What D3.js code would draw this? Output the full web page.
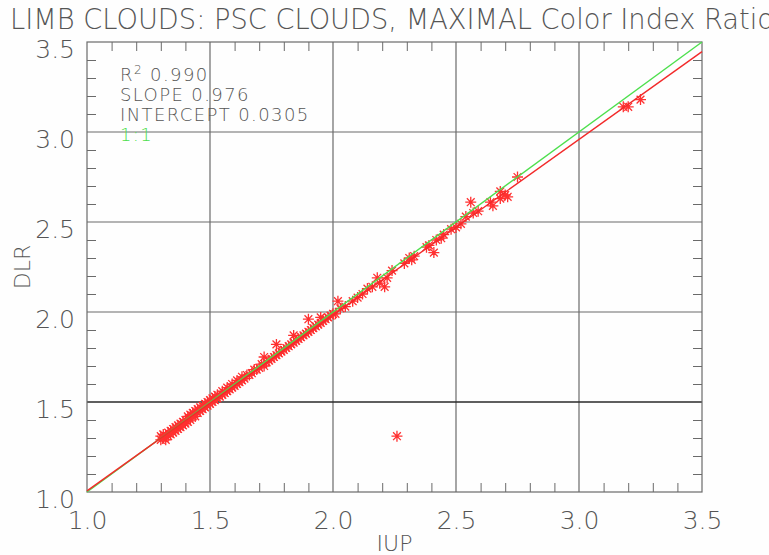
<!DOCTYPE html>
<html>
<head>
<meta charset="utf-8">
<script src="https://cdn.jsdelivr.net/npm/d3@7"></script>
<style>
  html, body { margin: 0; padding: 0; background: #fefefe; }
  svg { display: block; }
  text { font-family: "DejaVu Sans", "Noto Sans", sans-serif; font-weight: 200; fill: #555; }
</style>
</head>
<body>
<svg id="chart" width="769" height="555"></svg>
<script>
// Color index ratio pairs (IUP, DLR) for PSC limb clouds
const iup = [
  1.30,1.30,1.31,1.31,1.32,1.32,1.33,1.33,1.34,1.34,1.35,1.35,1.36,1.36,1.37,1.37,1.38,1.38,1.39,1.39,
  1.40,1.40,1.41,1.41,1.42,1.42,1.43,1.43,1.44,1.44,1.45,1.45,1.46,1.46,1.47,1.47,1.48,1.48,1.49,1.49,
  1.50,1.50,1.51,1.51,1.52,1.52,1.53,1.53,1.54,1.55,1.55,1.56,1.57,1.57,1.58,1.59,1.59,1.60,1.61,1.61,
  1.62,1.63,1.63,1.64,1.65,1.66,1.67,1.68,1.69,1.70,1.71,1.72,1.72,1.73,1.74,1.75,1.76,1.77,1.77,1.78,
  1.79,1.80,1.81,1.82,1.83,1.84,1.84,1.85,1.86,1.87,1.88,1.89,1.90,1.90,1.91,1.92,1.93,1.94,1.95,1.95,
  1.96,1.97,1.98,1.99,2.00,2.01,2.02,2.03,2.05,2.08,2.10,2.12,2.14,2.16,2.18,2.19,2.21,2.22,2.24,2.26,
  2.29,2.31,2.32,2.33,2.38,2.39,2.41,2.42,2.44,2.45,2.48,2.50,2.52,2.54,2.56,2.57,2.59,2.64,2.65,2.68,
  2.68,2.70,2.71,2.75,3.18,3.20,3.25
];
const dlr = [
  1.29,1.31,1.30,1.32,1.29,1.31,1.33,1.31,1.32,1.34,1.33,1.35,1.34,1.36,1.35,1.37,1.36,1.38,1.37,1.39,
  1.38,1.40,1.39,1.42,1.40,1.43,1.42,1.44,1.42,1.45,1.44,1.46,1.45,1.47,1.46,1.48,1.47,1.49,1.48,1.50,
  1.49,1.51,1.50,1.52,1.51,1.53,1.52,1.54,1.53,1.54,1.56,1.55,1.56,1.58,1.57,1.58,1.60,1.59,1.60,1.62,
  1.61,1.62,1.64,1.63,1.65,1.65,1.66,1.68,1.68,1.69,1.71,1.70,1.75,1.72,1.73,1.74,1.75,1.82,1.76,1.77,
  1.78,1.79,1.80,1.81,1.82,1.87,1.83,1.84,1.85,1.86,1.87,1.88,1.96,1.89,1.90,1.91,1.92,1.93,1.97,1.94,
  1.95,1.96,1.97,1.98,1.99,1.99,2.06,2.02,2.03,2.06,2.08,2.10,2.13,2.14,2.19,2.16,2.14,2.19,2.23,1.31,
  2.27,2.30,2.29,2.31,2.36,2.37,2.33,2.40,2.41,2.43,2.46,2.47,2.49,2.53,2.61,2.55,2.56,2.61,2.59,2.67,
  2.63,2.65,2.64,2.75,3.14,3.14,3.18
];

// Linear fit and reference line
const fitSlope = 0.976;
const fitIntercept = 0.0305;
const rSquared = "0.990";

// Axis ticks
const majorTicks = [1.0, 1.5, 2.0, 2.5, 3.0, 3.5];
const minorTicks = [1.1,1.2,1.3,1.4,1.6,1.7,1.8,1.9,2.1,2.2,2.3,2.4,2.6,2.7,2.8,2.9,3.1,3.2,3.3,3.4];

const titleText = "LIMB CLOUDS: PSC CLOUDS, MAXIMAL Color Index Ratio";
const xTitle = "IUP";
const yTitle = "DLR";

const svg = d3.select("#chart");
const pLeft = 87, pRight = 702, pTop = 42, pBottom = 492;
const x = d3.scaleLinear().domain([1, 3.5]).range([pLeft, pRight]);
const y = d3.scaleLinear().domain([1, 3.5]).range([pBottom, pTop]);
const fmt = d3.format(".1f");

// Title
svg.append("text")
  .attr("x", 10).attr("y", 28.5)
  .attr("font-size", 28)
  .attr("textLength", 764).attr("lengthAdjust", "spacingAndGlyphs")
  .text(titleText);

// Major grid lines
const grid = svg.append("g");
grid.selectAll("line.gx").data(majorTicks.slice(1, -1)).join("line")
  .attr("x1", d => x(d)).attr("x2", d => x(d))
  .attr("y1", pTop).attr("y2", pBottom)
  .attr("stroke", "#6a6a6a").attr("stroke-width", 1.2);
grid.selectAll("line.gy").data(majorTicks.slice(1, -1)).join("line")
  .attr("y1", d => y(d)).attr("y2", d => y(d))
  .attr("x1", pLeft).attr("x2", pRight)
  .attr("stroke", d => d === 1.5 ? "#2a2a2a" : "#6a6a6a")
  .attr("stroke-width", d => d === 1.5 ? 1.6 : 1.2);

// Minor ticks on all four sides
const tickLen = 9;
function minorAxis(axisFn, scale, transform) {
  const g = svg.append("g").attr("transform", transform)
    .call(axisFn(scale).tickValues(minorTicks).tickSize(-tickLen).tickFormat(""));
  g.select(".domain").remove();
  g.selectAll(".tick line").attr("stroke", "#6a6a6a");
}
minorAxis(d3.axisBottom, x, `translate(0,${pBottom})`);
minorAxis(d3.axisTop, x, `translate(0,${pTop})`);
minorAxis(d3.axisLeft, y, `translate(${pLeft},0)`);
minorAxis(d3.axisRight, y, `translate(${pRight},0)`);

// Frame
svg.append("rect")
  .attr("x", pLeft).attr("y", pTop)
  .attr("width", pRight - pLeft).attr("height", pBottom - pTop)
  .attr("fill", "none").attr("stroke", "#6a6a6a").attr("stroke-width", 1.2);

// Major tick labels
const xLab = svg.append("g").attr("transform", `translate(0,${pBottom})`)
  .call(d3.axisBottom(x).tickValues(majorTicks).tickSize(0).tickPadding(19).tickFormat(fmt));
xLab.select(".domain").remove();
xLab.selectAll("text").attr("font-size", 25).attr("font-family", null).attr("fill", "#555");

const yLab = svg.append("g").attr("transform", `translate(${pLeft},0)`)
  .call(d3.axisLeft(y).tickValues(majorTicks).tickSize(0).tickPadding(12).tickFormat(fmt));
yLab.select(".domain").remove();
yLab.selectAll("text").attr("font-size", 25).attr("font-family", null).attr("fill", "#555")
  .attr("dy", "0.62em");

// Axis titles
svg.append("text")
  .attr("x", (pLeft + pRight) / 2).attr("y", 551)
  .attr("text-anchor", "middle").attr("font-size", 22)
  .text(xTitle);
svg.append("text")
  .attr("transform", `translate(30,${(pTop + pBottom) / 2}) rotate(-90)`)
  .attr("text-anchor", "middle").attr("font-size", 22)
  .text(yTitle);

// Points drawn as eight-armed asterisks
const plot = svg.append("g");
const r = 5.5;
const d2 = r * Math.SQRT1_2;
const starPath = `M${-r},0L${r},0M0,${-r}L0,${r}M${-d2},${-d2}L${d2},${d2}M${-d2},${d2}L${d2},${-d2}`;
plot.selectAll("path.pt").data(iup.map((v, i) => [v, dlr[i]])).join("path")
  .attr("class", "pt")
  .attr("transform", d => `translate(${x(d[0])},${y(d[1])})`)
  .attr("d", starPath)
  .attr("stroke", "#ff3030").attr("stroke-width", 1.3).attr("fill", "none");

// 1:1 reference line and fitted line
plot.append("line")
  .attr("x1", x(1)).attr("y1", y(1)).attr("x2", x(3.5)).attr("y2", y(3.5))
  .attr("stroke", "#4ddf4d").attr("stroke-width", 1.4);
plot.append("line")
  .attr("x1", x(1)).attr("y1", y(fitIntercept + fitSlope * 1))
  .attr("x2", x(3.5)).attr("y2", y(fitIntercept + fitSlope * 3.5))
  .attr("stroke", "#f22a2a").attr("stroke-width", 1.4);

// Fit statistics
const stats = svg.append("g").attr("font-size", 18).attr("letter-spacing", 1.4);
const r2 = stats.append("text").attr("x", 120).attr("y", 81);
r2.append("tspan").text("R");
r2.append("tspan").attr("font-size", 12).attr("dy", -7).text("2");
r2.append("tspan").attr("dy", 7).text(" " + rSquared);
stats.append("text").attr("x", 120).attr("y", 101).text("SLOPE " + fitSlope.toFixed(3));
stats.append("text").attr("x", 120).attr("y", 121).text("INTERCEPT " + fitIntercept.toFixed(4));
stats.append("text").attr("x", 120).attr("y", 141).style("fill", "#4ddf4d").text("1:1");
</script>
</body>
</html>
